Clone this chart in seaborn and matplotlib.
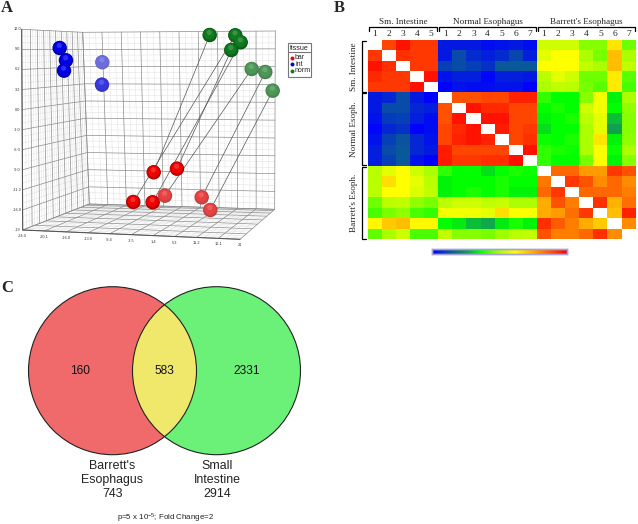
import numpy as np
import pandas as pd
import matplotlib
matplotlib.use("Agg")
import matplotlib.pyplot as plt
from matplotlib.colors import LinearSegmentedColormap, to_rgb
from matplotlib.patches import Circle, Rectangle
import seaborn as sns

# panel A: samples (reference pixels)
norm_x = [209.7, 235.3, 240.7, 231.3, 251.7, 265.3, 272.7]
norm_y = [35.0, 35.3, 42.3, 50.0, 69.0, 72.0, 90.7]
norm_fade = [0, 0, 0, 0, .3, .3, .3]
bar_x = [133.3, 177.0, 153.7, 152.7, 165.0, 201.7, 210.3]
bar_y = [202.0, 168.7, 172.3, 202.3, 195.7, 197.3, 210.0]
bar_fade = [0, 0, 0, 0, .3, .3, .3]
int_x = [59.7, 66.0, 64.0, 102.3, 102.0]
int_y = [48.0, 60.3, 70.7, 62.3, 84.7]
int_fade = [0, 0, 0, .5, .25]
y_tick_labels = ["12.0", "9.0", "6.2", "3.2", "0.0", "-3.0", "-6.0", "-9.0", "-11.2", "-16.0", "-19"]
x_tick_labels = ["-24.0", "-20.1", "-16.0", "-13.0", "-9.4", "-3.5", "1.4", "5.3", "11.2", "16.1", "21"]

# panel B: correlation matrix, nan on the diagonal
sample_labels = ["1", "2", "3", "4", "5", "1", "2", "3", "4", "5", "6", "7", "1", "2", "3", "4", "5", "6", "7"]
group_names = ["Sm. Intestine", "Normal Esophagus", "Barrett's Esophagus"]
group_names_short = ["Sm. Intestine", "Normal Esoph.", "Barrett's Esoph."]
group_sizes = [5, 7, 7]
n = np.nan
corr = [
    [n, .90, .97, .92, .92, .04, .04, .04, .02, .03, .04, .02, .55, .55, .55, .47, .47, .66, .45],
    [.92, n, .93, .92, .92, .04, .12, .07, .05, .07, .11, .05, .58, .62, .62, .50, .46, .72, .50],
    [.97, .93, n, .92, .92, .10, .12, .10, .08, .14, .14, .14, .62, .62, .62, .53, .50, .72, .53],
    [.94, .92, .92, n, .97, .03, .05, .05, .01, .05, .05, .04, .52, .58, .55, .45, .45, .65, .43],
    [.92, .92, .92, .97, n, .00, .03, .02, .02, .03, .03, .00, .50, .53, .52, .46, .43, .65, .42],
    [.04, .06, .12, .04, .00, n, .88, .88, .90, .90, .95, .95, .40, .36, .36, .47, .60, .35, .50],
    [.04, .12, .12, .06, .05, .88, n, .97, .94, .94, .90, .90, .36, .38, .36, .55, .60, .36, .48],
    [.03, .09, .10, .05, .02, .88, .97, n, .97, .97, .90, .90, .35, .36, .38, .52, .58, .30, .47],
    [.01, .06, .08, .00, .02, .90, .94, .97, n, .96, .90, .92, .33, .36, .36, .50, .58, .27, .47],
    [.03, .10, .13, .06, .03, .90, .95, .97, .95, n, .90, .93, .37, .36, .38, .50, .66, .35, .48],
    [.05, .12, .14, .06, .04, .96, .90, .90, .90, .90, n, .97, .40, .38, .37, .50, .61, .37, .50],
    [.05, .10, .14, .03, .00, .96, .92, .92, .93, .93, .98, n, .40, .36, .36, .46, .61, .35, .47],
    [.52, .58, .62, .55, .50, .40, .36, .36, .33, .36, .38, .37, n, .85, .85, .78, .78, .92, .88],
    [.52, .67, .62, .58, .52, .35, .36, .36, .36, .38, .36, .36, .83, n, .92, .88, .80, .85, .80],
    [.52, .62, .62, .57, .53, .35, .36, .38, .36, .38, .35, .35, .85, .92, n, .85, .85, .85, .82],
    [.45, .52, .53, .48, .46, .52, .55, .55, .53, .54, .50, .50, .75, .88, .82, n, .93, .74, .84],
    [.42, .46, .48, .42, .40, .60, .60, .60, .58, .67, .61, .61, .75, .78, .84, .92, n, .72, .95],
    [.63, .70, .72, .63, .63, .36, .34, .30, .28, .34, .38, .35, .93, .87, .82, .75, .70, n, .80],
    [.44, .50, .55, .42, .42, .53, .47, .47, .46, .49, .52, .53, .88, .82, .82, .85, .93, .80, n],
]

# panel C: venn counts
only_left = 160
shared = 583
only_right = 2331
left_total = 743
right_total = 2914

W, H = 638, 524
sns.set_theme(style="white")
plt.rcParams["font.family"] = ["Liberation Sans", "DejaVu Sans"]
plt.rcParams["mathtext.fontset"] = "custom"
plt.rcParams["mathtext.rm"] = "Liberation Sans"
plt.rcParams["mathtext.default"] = "rm"

fig = plt.figure(figsize=(W / 100, H / 100), dpi=100)
ax = fig.add_axes([0, 0, 1, 1])
ax.set_xlim(0, W)
ax.set_ylim(H, 0)
ax.axis("off")


def quad_point(corners, u, v):
    # corners: top-left, top-right, bottom-right, bottom-left
    tl, tr, br, bl = [np.array(c) for c in corners]
    return (tl * (1 - u) + tr * u) * (1 - v) + (bl * (1 - u) + br * u) * v


def draw_grid(corners, n_u, n_v, warp_u=1.0, warp_v=1.0):
    for axis, count in (("u", n_u), ("v", n_v)):
        for i in range(count * 3 + 1):
            t = i / (count * 3)
            major = i % 3 == 0
            color = "#8c8c8c" if major else "#e4e4e4"
            lw = 0.5 if major else 0.4
            if axis == "u":
                a = quad_point(corners, t ** warp_u, 0)
                b = quad_point(corners, t ** warp_u, 1)
            else:
                a = quad_point(corners, 0, t ** warp_v)
                b = quad_point(corners, 1, t ** warp_v)
            ax.plot([a[0], b[0]], [a[1], b[1]], color=color, lw=lw, zorder=2 if major else 1)


# panel A walls and floor
left_wall = [(21.7, 29.3), (82.7, 32.3), (89.3, 204), (22.7, 230)]
back_wall = [(82.7, 32.3), (275.3, 31), (274.7, 209.3), (89.3, 204)]
floor = [(89.3, 204), (274.7, 209.3), (240, 239.3), (22.7, 230)]
draw_grid(left_wall, 10, 10, warp_u=0.85)
draw_grid(back_wall, 10, 10)
draw_grid(floor, 10, 8, warp_v=1.5)
ax.plot([21.7, 22.7, 240], [29.3, 230, 239.3], color="#555555", lw=0.8, zorder=3)

for i, label in enumerate(y_tick_labels):
    ax.text(17.5, 29.3 + i * 20.07, label, fontsize=2.8, ha="center", va="center", color="#333333")
for i, label in enumerate(x_tick_labels):
    x, y = quad_point(floor, i / 10, 1)
    ax.text(x, y + 6, label, fontsize=2.8, ha="center", va="center", color="#333333")

# pairing of the samples (barrett's vs normal)
pair_order = [2, 0, 3, 1, 4, 5, 6]
for g, b in enumerate(pair_order):
    ax.plot([norm_x[g], bar_x[b]], [norm_y[g], bar_y[b]], color="#555555", lw=0.5, zorder=4)

tissue_df = pd.DataFrame({
    "x": bar_x + int_x + norm_x,
    "y": bar_y + int_y + norm_y,
    "fade": bar_fade + int_fade + norm_fade,
    "tissue": ["bar"] * len(bar_x) + ["int"] * len(int_x) + ["norm"] * len(norm_x),
})
tissue_colors = {"bar": "#f00000", "int": "#0000e8", "norm": "#0f7a1e"}


def shade(color, fade, k):
    c = np.array(to_rgb(color)) * k
    if k > 1:
        c = np.array(to_rgb(color)) + (k - 1) * (1 - np.array(to_rgb(color)))
    c = np.clip(c, 0, 1)
    return tuple(c * (1 - fade) + np.array([.85, .85, .85]) * fade)


# spheres: stacked discs going from the dark rim to the light top
layers = [(108, 0, 0, 0.68), (90, -0.2, -0.4, 0.85), (60, -0.3, -0.8, 1.0), (14, -0.4, -2.4, 1.18)]
for size, dx, dy, k in layers:
    df = tissue_df.assign(x=tissue_df["x"] + dx, y=tissue_df["y"] + dy)
    cols = [shade(tissue_colors[t], f, k) for t, f in zip(df["tissue"], df["fade"])]
    sns.scatterplot(data=df, x="x", y="y", s=size, c=cols, linewidth=0, ax=ax, legend=False, zorder=5)
ax.set_xlim(0, W)
ax.set_ylim(H, 0)
ax.axis("off")

# legend of panel A
ax.add_patch(Rectangle((288, 42.5), 22.5, 34, fc="white", ec="#777777", lw=0.8, zorder=6))
ax.plot([288, 310.5], [52, 52], color="#777777", lw=0.8, zorder=7)
ax.text(289.5, 48, "tissue", fontsize=5, va="center", color="#222222", zorder=7)
for i, name in enumerate(tissue_colors):
    y = 57.5 + i * 6.5
    ax.scatter([291.5], [y], s=8, color=tissue_colors[name], linewidth=0, zorder=7)
    ax.text(295, y, name, fontsize=5, va="center", color="#222222", zorder=7)

# panel B
heat_cmap = LinearSegmentedColormap.from_list("corr", [
    (0.0, "#0000ff"), (0.15, "#0a6090"), (0.27, "#10a050"), (0.36, "#00ff00"),
    (0.5, "#aaff00"), (0.62, "#ffff00"), (0.78, "#ff9a00"), (1.0, "#ff0000"),
])
ax_b = fig.add_axes([367.7 / W, 1 - 239.5 / H, 268 / W, 199.5 / H])
ax_cb = fig.add_axes([431.5 / W, 1 - 254 / H, 135.5 / W, 5 / H])
sns.heatmap(
    np.array(corr), ax=ax_b, cmap=heat_cmap, vmin=0, vmax=1,
    xticklabels=sample_labels, yticklabels=False,
    cbar_ax=ax_cb, cbar_kws={"orientation": "horizontal", "ticks": []},
)
ax_b.xaxis.tick_top()
ax_b.tick_params(axis="x", length=0, pad=1.5, labelsize=6.8, labelrotation=0)
for lab in ax_b.get_xticklabels():
    lab.set_family("Liberation Serif")
for spine in ax_cb.spines.values():
    spine.set_visible(True)
    spine.set_color("#a8a0d8")
    spine.set_linewidth(1)

start = 0
for name, short, size in zip(group_names, group_names_short, group_sizes):
    end = start + size
    mid = (start + end) / 2
    ax_b.plot([start + .06, start + .06, end - .06, end - .06], [-0.9, -1.2, -1.2, -0.9],
              color="black", lw=0.9, clip_on=False)
    ax_b.text(mid, -1.75, name, fontsize=6.6, family="Liberation Serif", ha="center", va="center")
    ax_b.plot([-0.12, -0.42, -0.42, -0.12], [start + .06, start + .06, end - .06, end - .06],
              color="black", lw=0.9, clip_on=False)
    ax_b.text(-0.95, mid, short, fontsize=6.6, family="Liberation Serif", rotation=90, ha="center", va="center")
    start = end

# panel C
left_c = (112.5, 370.7)
right_c = (216.5, 370.7)
radius = 84
left_circle = Circle(left_c, radius, fc="#f0696b", ec="none")
right_circle = Circle(right_c, radius, fc="#6bf078", ec="none")
ax.add_patch(left_circle)
ax.add_patch(right_circle)
overlap = Circle(right_c, radius, fc="#f0e86a", ec="none")
ax.add_patch(overlap)
overlap.set_clip_path(Circle(left_c, radius, transform=ax.transData))
for c in (left_c, right_c):
    ax.add_patch(Circle(c, radius, fc="none", ec="#222222", lw=0.8))

ax.text(80, 371, str(only_left), fontsize=8.6, ha="center", va="center", color="#111111")
ax.text(164.5, 371, str(shared), fontsize=8.6, ha="center", va="center", color="#111111")
ax.text(246.5, 371, str(only_right), fontsize=8.6, ha="center", va="center", color="#111111")
ax.text(112.5, 480, f"Barrett's\nEsophagus\n{left_total}", fontsize=8.9, ha="center", va="center",
        color="#222222", linespacing=1.17)
ax.text(217, 480, f"Small\nIntestine\n{right_total}", fontsize=8.9, ha="center", va="center",
        color="#222222", linespacing=1.17)
ax.text(165, 518.5, "p=5 x 10$^{-5}$; Fold Change=2", fontsize=5.7, ha="center", va="center", color="#222222")

# panel letters
for letter, x, y in (("A", 1, 8), ("B", 334, 8), ("C", 1, 288)):
    ax.text(x, y, letter, fontsize=12, fontweight="bold", family="Liberation Serif", va="center")

fig.savefig("out.png", dpi=100)
